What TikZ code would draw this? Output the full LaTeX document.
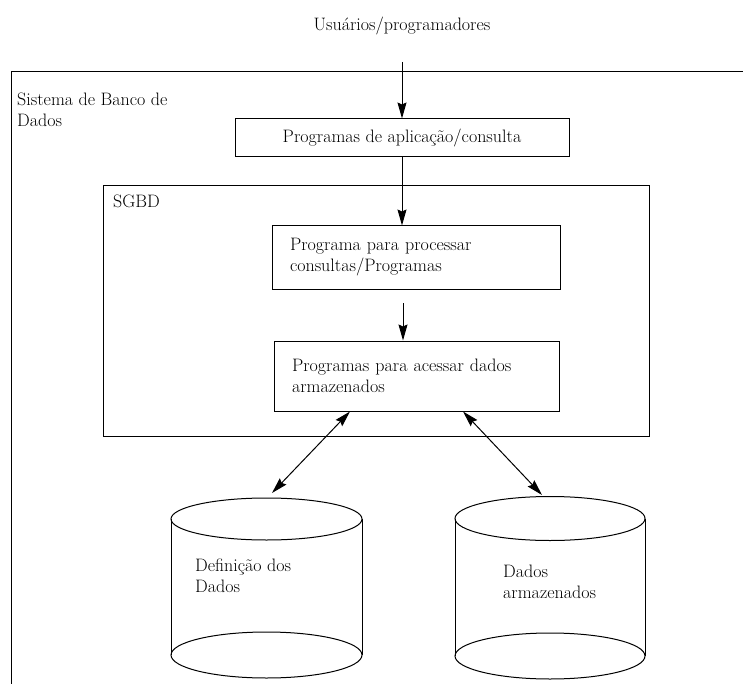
\documentclass[tikz,border=0pt]{standalone}
\usetikzlibrary{arrows.meta}
\begin{document}
\begin{tikzpicture}[x=1pt,y=-1pt,
  every node/.style={font=\fontsize{18}{21}\selectfont},
  box/.style={draw,line width=1pt,inner sep=0pt},
  conn/.style={line width=1pt,-{Stealth[length=16pt,width=9pt,inset=2pt]}},
  dconn/.style={line width=1pt,{Stealth[length=16pt,width=9pt,inset=2pt]}-{Stealth[length=16pt,width=9pt,inset=2pt]}},
  lbl/.style={align=left,inner sep=0pt,anchor=west},
  cyl/.style={line width=1pt}]
\useasboundingbox (0,0) rectangle (743,684);
% outer system frame
\coordinate (oTR) at (743,72);
\coordinate (oBL) at (11,684);
\draw[line width=1pt] (oTR) -| (oBL);
\node[lbl] (sysl) at (17,110) {Sistema de Banco de\\Dados};
% users
\node[inner sep=0pt] (users) at (402,26) {Usuários/programadores};
\coordinate (uStart) at (402,62);
% application box
\node[box,minimum width=334pt,minimum height=38pt] (app) at (402,138) {Programas de aplicação/consulta};
% SGBD box
\node[box,minimum width=546pt,minimum height=250pt] (sgbd) at (376,311) {};
\node[lbl] (sgbdl) at (113,201) {SGBD};
\node[box,minimum width=288pt,minimum height=63pt,text width=252pt,align=left] (proc) at (416,257.5) {Programa para processar\\consultas/Programas};
\node[box,minimum width=285pt,minimum height=70pt,text width=249pt,align=left] (acc) at (416.5,376) {Programas para acessar dados\\armazenados};
% connectors
\draw[conn] (uStart) -- (app.north);
\draw[conn] (app.south) -- (app.south |- proc.north);
\coordinate (pStart) at (403,303);
\draw[conn] (pStart) -- (pStart |- acc.north);
\coordinate (a1) at (350,411.5);
\coordinate (d1) at (272,493);
\coordinate (a2) at (463,411.5);
\coordinate (d2) at (542,495);
\draw[dconn] (a1) -- (d1);
\draw[dconn] (a2) -- (d2);
% left cylinder
\draw[cyl] (266.5,519) ellipse [x radius=95.5pt, y radius=21pt];
\draw[cyl] (266.5,655) ellipse [x radius=95.5pt, y radius=23pt];
\draw[cyl] (171,519) -- (171,655);
\draw[cyl] (362,519) -- (362,655);
\node[lbl] (defl) at (195,575.5) {Definição dos\\Dados};
% right cylinder
\draw[cyl] (550,518.5) ellipse [x radius=95pt, y radius=22pt];
\draw[cyl] (550,656) ellipse [x radius=95pt, y radius=23pt];
\draw[cyl] (455,518.5) -- (455,656);
\draw[cyl] (645,518.5) -- (645,656);
\node[lbl] (datl) at (503,581.5) {Dados\\armazenados};
\end{tikzpicture}
\end{document}
